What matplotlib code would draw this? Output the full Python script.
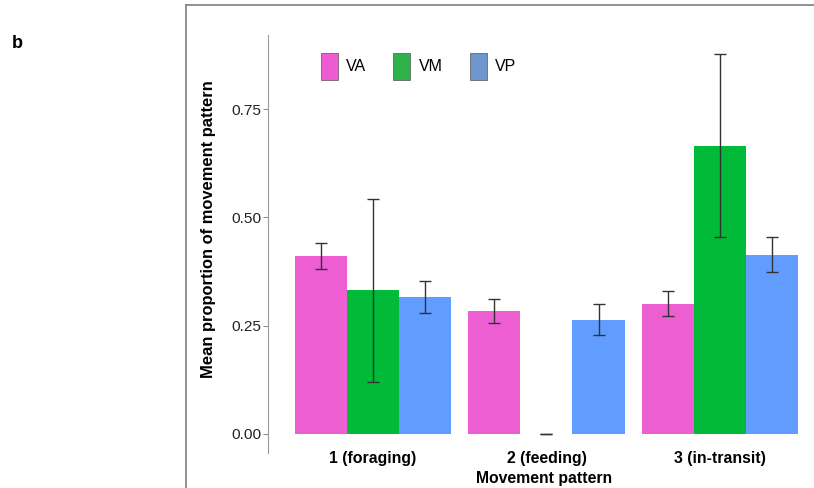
import numpy as np
import matplotlib
matplotlib.use("Agg")
from matplotlib import pyplot as plt
from matplotlib.lines import Line2D
from matplotlib.patches import Patch

plt.rcParams["font.family"] = ["Liberation Sans", "DejaVu Sans"]

patterns = ["1 (foraging)", "2 (feeding)", "3 (in-transit)"]
groups = ["VA", "VM", "VP"]
colors = ["#ED5ED3", "#00BA38", "#619CFF"]
legend_colors = ["#EE5BD2", "#2DB34A", "#6F95CD"]

va_mean = [0.410, 0.284, 0.301]
va_low = [0.380, 0.256, 0.273]
va_high = [0.440, 0.311, 0.329]

vm_mean = [0.333, 0.0, 0.666]
vm_low = [0.120, 0.0, 0.454]
vm_high = [0.543, 0.0, 0.878]

vp_mean = [0.316, 0.264, 0.414]
vp_low = [0.278, 0.229, 0.375]
vp_high = [0.353, 0.299, 0.454]

means = [va_mean, vm_mean, vp_mean]
lows = [va_low, vm_low, vp_low]
highs = [va_high, vm_high, vp_high]

W, H = 814, 488
fig = plt.figure(figsize=(W / 100, H / 100), dpi=100)
ax = fig.add_axes([268 / W, 1 - 452.7 / H, (W - 268) / W, (452.7 - 35) / H])

x = np.arange(len(patterns))
bw = 0.3
for k in range(3):
    xs = x + (k - 1) * bw
    m = np.array(means[k])
    lo = np.array(lows[k])
    hi = np.array(highs[k])
    ax.bar(xs, m, width=bw, color=colors[k], edgecolor="none", zorder=2)
    ax.errorbar(xs, m, yerr=[m - lo, hi - m], fmt="none", ecolor="#333333",
                elinewidth=1.0, capsize=4.3, capthick=1.0, zorder=3)

ax.set_xlim(-0.605, 2.542)
ax.set_ylim(-0.0439, 0.922)
ax.set_yticks([0, 0.25, 0.5, 0.75])
ax.set_yticklabels(["0.00", "0.25", "0.50", "0.75"])
ax.set_xticks(x)
ax.set_xticklabels(patterns, fontweight="bold", fontsize=11.4, color="black")
ax.tick_params(axis="x", length=0, pad=-1.0)
ax.tick_params(axis="y", length=3.5, width=0.7, color="#888888", pad=1.5,
               labelsize=11.1, labelcolor="#222222")
for s in ["top", "right", "bottom"]:
    ax.spines[s].set_visible(False)
ax.spines["left"].set_color("#999999")
ax.spines["left"].set_linewidth(0.8)

handles = [Patch(facecolor=legend_colors[k], edgecolor="#555555", linewidth=0.5)
           for k in range(3)]
ax.legend(handles, groups, loc="upper left", bbox_to_anchor=(0.0824, 0.976),
          ncol=3, frameon=False, fontsize=11.5, handlelength=1.06, borderpad=0,
          handleheight=2.22, handletextpad=0.52, columnspacing=1.7)

fig.text(208 / W, 1 - 229 / H, "Mean proportion of movement pattern",
         rotation=90, ha="center", va="center", fontweight="bold", fontsize=11.9)
fig.text(544 / W, 1 - 478 / H, "Movement pattern", ha="center", va="center",
         fontweight="bold", fontsize=11.3)
fig.text(17 / W, 1 - 43 / H, "b", ha="center", va="center",
         fontweight="bold", fontsize=13)

# grey frame around the panel (top and left edges visible)
fig.add_artist(Line2D([186 / W, 186 / W], [0, 1 - 5 / H], transform=fig.transFigure,
                      color="#888888", linewidth=1.3))
fig.add_artist(Line2D([186 / W, 1], [1 - 5 / H, 1 - 5 / H], transform=fig.transFigure,
                      color="#888888", linewidth=1.3))

fig.savefig("out.png", dpi=100)
